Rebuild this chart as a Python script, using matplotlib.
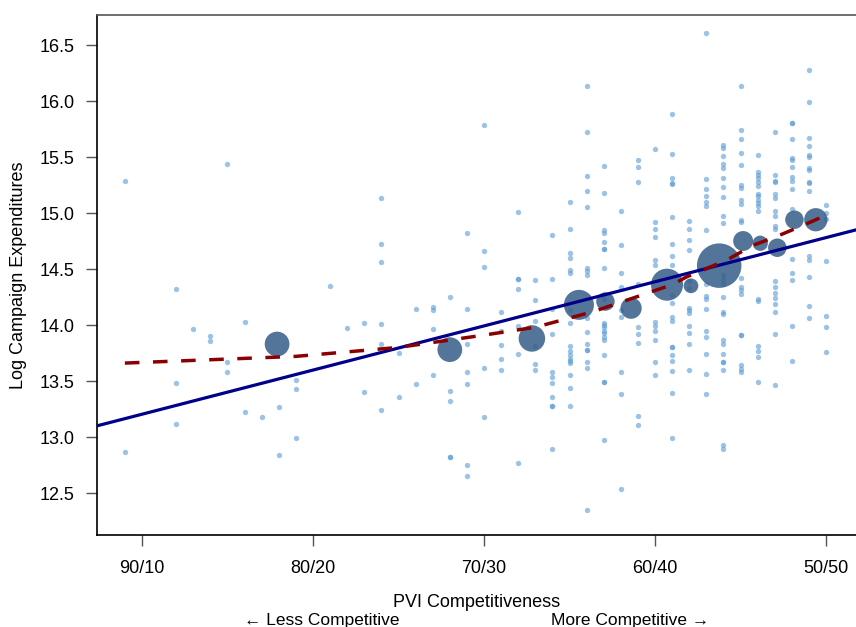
import numpy as np
import matplotlib
matplotlib.use("Agg")
import matplotlib.pyplot as plt

plt.rcParams['font.family'] = ['Liberation Sans', 'DejaVu Sans']

# district-level points: PVI share of the winning side and log spending
col_pvi = [91, 88, 87, 86, 85, 84, 83, 82, 81, 79, 78, 77, 76, 75, 74, 73, 72, 71, 70,
           69, 68, 67, 66, 65, 64, 63, 62, 61, 60, 59, 58, 57, 56, 55, 54, 53, 52, 51, 50]
col_spend = [
    [15.29, 12.87],
    [14.32, 13.48, 13.12],
    [13.96],
    [13.90, 13.86],
    [15.44, 13.67, 13.58],
    [14.03, 13.22],
    [13.18],
    [13.27, 12.84],
    [13.51, 13.43, 12.99],
    [14.35],
    [13.97],
    [14.02, 13.40],
    [15.13, 14.72, 14.56, 14.01, 13.83, 13.24],
    [13.75, 13.36],
    [14.14, 13.47],
    [14.16, 14.13, 13.96, 13.55],
    [14.25, 13.41, 13.32, 12.82, 12.82],
    [14.82, 14.14, 13.83, 13.58, 13.47, 12.75, 12.65],
    [15.79, 14.66, 14.52, 13.62, 13.18],
    [14.12, 13.95, 13.82, 13.70, 13.60],
    [15.01, 14.41, 14.41, 14.32, 13.99, 13.74, 12.77],
    [14.40, 14.22, 14.04, 13.81, 13.65, 13.60],
    [14.80, 14.41, 14.14, 13.92, 13.58, 13.54, 13.48, 13.36, 13.28, 13.28, 12.89],
    [15.10, 14.86, 14.64, 14.60, 14.49, 14.46, 14.13, 14.02, 13.81, 13.77, 13.73,
     13.70, 13.68, 13.66, 13.55, 13.44, 13.28],
    [16.13, 15.72, 15.33, 15.20, 15.05, 14.51, 14.48, 14.45, 14.06, 13.94, 13.83,
     13.78, 13.78, 13.67, 13.62, 12.35],
    [15.42, 15.18, 14.85, 14.82, 14.74, 14.68, 14.68, 14.51, 14.23, 14.02, 14.00,
     13.98, 13.95, 13.93, 13.89, 13.87, 13.73, 13.49, 13.49, 12.97],
    [15.02, 14.71, 14.46, 14.34, 14.13, 14.07, 13.58, 13.38, 12.54],
    [15.47, 15.41, 15.28, 14.37, 13.98, 13.92, 13.84, 13.19, 13.11],
    [15.57, 14.92, 14.86, 14.79, 14.58, 14.54, 14.03, 13.99, 13.95, 13.87, 13.67, 13.55],
    [15.88, 15.53, 15.31, 15.27, 15.26, 14.96, 14.72, 14.62, 14.54, 14.27, 14.20,
     14.07, 14.04, 13.80, 13.80, 13.73, 13.68, 13.59, 13.39, 12.99],
    [14.93, 14.86, 14.76, 14.67, 14.39, 14.33, 14.15, 14.13, 14.11, 13.99, 13.93,
     13.83, 13.60],
    [16.61, 15.30, 15.21, 15.15, 15.10, 15.06, 14.85, 14.37, 14.26, 14.23, 14.14,
     13.95, 13.89, 13.74, 13.56, 13.38],
    [15.61, 15.58, 15.51, 15.44, 15.40, 15.31, 15.23, 15.14, 14.97, 14.91, 14.45,
     14.40, 14.37, 14.25, 14.12, 14.10, 13.87, 13.83, 13.74, 13.67, 13.67, 13.60,
     12.93, 12.89],
    [16.13, 15.74, 15.66, 15.54, 15.43, 15.25, 15.22, 15.12, 15.08, 14.94, 14.92,
     14.42, 14.34, 14.31, 14.28, 13.91, 13.91, 13.64, 13.61, 13.58],
    [15.52, 15.37, 15.34, 15.31, 15.28, 15.24, 15.17, 15.15, 15.12, 15.09, 15.06,
     15.02, 14.23, 14.21, 13.81, 13.77, 13.71, 13.49],
    [15.72, 15.34, 15.29, 15.28, 15.17, 15.13, 15.02, 14.97, 14.88, 14.86, 14.39,
     14.34, 14.29, 14.24, 14.19, 14.12, 13.92, 13.46],
    [15.80, 15.80, 15.66, 15.49, 15.47, 15.41, 15.32, 15.29, 15.21, 15.04, 14.59,
     14.46, 14.40, 13.99, 13.68],
    [16.28, 15.99, 15.67, 15.60, 15.52, 15.50, 15.40, 15.38, 15.28, 15.27, 15.20,
     14.62, 14.58, 14.43, 14.17, 14.06],
    [15.07, 15.00, 14.95, 14.57, 14.08, 13.98, 13.76],
]

# binned means (bubble area ~ districts in bin)
bin_pvi = [82.1, 72.0, 67.2, 64.45, 62.9, 61.4, 59.3, 57.9, 56.25, 54.85, 53.85, 52.85, 51.85, 50.6]
bin_spend = [13.83, 13.78, 13.88, 14.18, 14.21, 14.15, 14.36, 14.35, 14.53, 14.75, 14.73, 14.69, 14.94, 14.94]
bin_n = [34, 34, 39, 50, 19, 25, 57, 12, 110, 22, 13, 19, 19, 30]

# lowess smooth
smooth_pvi = [91.0, 86.0, 81.0, 75.0, 70.0, 67.0, 63.6, 59.0, 58.15, 55.8, 54.3, 52.9, 51.5, 50.0]
smooth_spend = [13.66, 13.69, 13.72, 13.80, 13.91, 13.98, 14.12, 14.36, 14.43, 14.58, 14.71, 14.79, 14.88, 14.98]

# OLS fit
fit_intercept = 16.752
fit_slope = -0.03943

tick_pos = [90, 80, 70, 60, 50]
tick_lab = ['90/10', '80/20', '70/30', '60/40', '50/50']

x_pts = np.concatenate([[p] * len(v) for p, v in zip(col_pvi, col_spend)])
y_pts = np.concatenate(col_spend)

fig = plt.figure(figsize=(8.56, 6.27), dpi=100)
ax = fig.add_axes([97 / 856, 92 / 627, 759 / 856, 520 / 627])
xlo, xhi = 92.63, 48.25
ax.set_xlim(xlo, xhi)
ax.set_ylim(12.125, 16.768)

ax.scatter(x_pts, y_pts, s=15, color='#5b9bd5', alpha=0.6, linewidths=0, zorder=2)
ax.scatter(bin_pvi, bin_spend, s=np.array(bin_n) * 9.33, color='#355d88', alpha=0.85,
           linewidths=0, zorder=3)

xs = np.array([xlo, xhi])
ax.plot(xs, fit_intercept + fit_slope * xs, color='#00008b', lw=2.3, zorder=4)
ax.plot(smooth_pvi, smooth_spend, color='#8b0000', lw=2.5, ls=(0, (4.2, 3.9)), zorder=5)

ax.set_xticks(tick_pos)
ax.set_xticklabels(tick_lab)
ax.set_yticks([12.5, 13.0, 13.5, 14.0, 14.5, 15.0, 15.5, 16.0, 16.5])
ax.set_yticklabels(['12.5', '13.0', '13.5', '14.0', '14.5', '15.0', '15.5', '16.0', '16.5'])
ax.tick_params(axis='both', direction='out', length=8, width=1, color='#555555',
               labelsize=13, pad=8)
ax.tick_params(axis='x', pad=10)

ax.spines['right'].set_visible(False)
ax.spines['top'].set_color('#555555')
for side in ['left', 'bottom', 'top']:
    ax.spines[side].set_linewidth(1.2)

ax.set_ylabel('Log Campaign Expenditures', fontsize=13, labelpad=9)
ax.set_xlabel('PVI Competitiveness', fontsize=13, labelpad=12)
fig.text(322 / 856, 0.011, '\u2190 Less Competitive', fontsize=12.5, ha='center', va='center')
fig.text(630 / 856, 0.011, 'More Competitive \u2192', fontsize=12.5, ha='center', va='center')

fig.savefig('out.png', dpi=100)
